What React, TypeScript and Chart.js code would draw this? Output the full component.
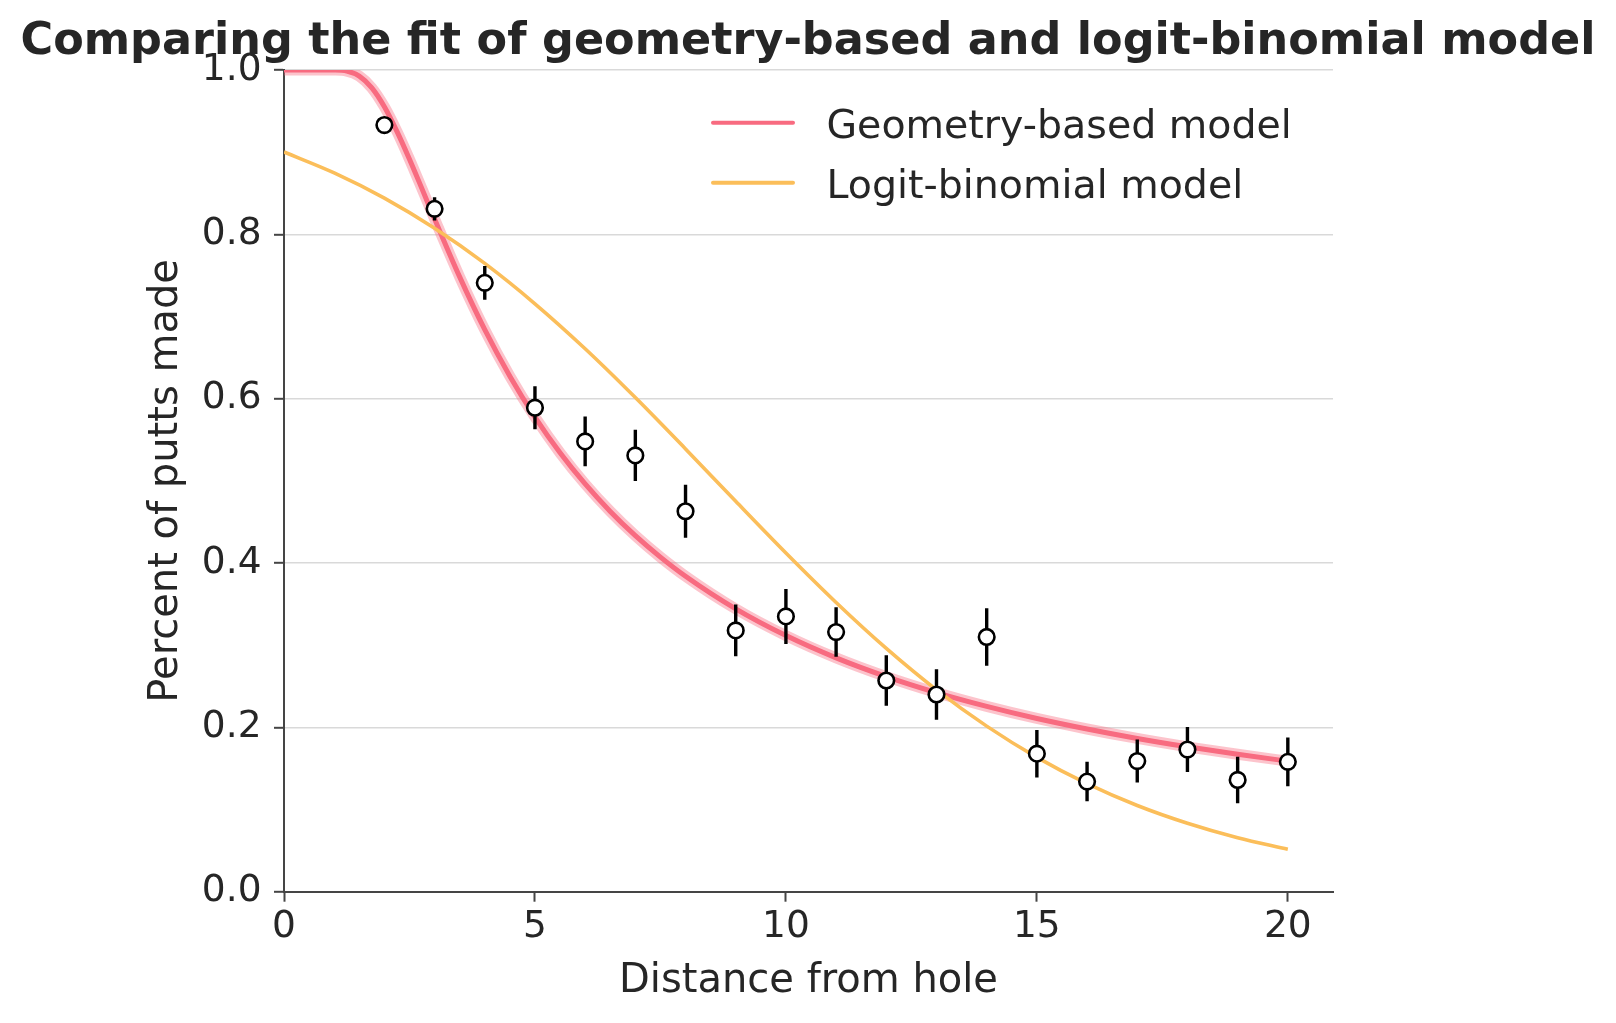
import React, { useEffect, useRef } from "react";
import { Chart, registerables } from "chart.js";

Chart.register(...registerables);

// ---------- text ----------
const titleText = "Comparing the fit of geometry-based and logit-binomial model";
const xLabel = "Distance from hole";
const yLabel = "Percent of putts made";
const seriesNames = ["Geometry-based model", "Logit-binomial model"];

// ---------- observed data ----------
const distances = [2, 3, 4, 5, 6, 7, 8, 9, 10, 11, 12, 13, 14, 15, 16, 17, 18, 19, 20];
const successRate = [0.933, 0.831, 0.741, 0.589, 0.548, 0.531, 0.463, 0.318, 0.335, 0.316, 0.257, 0.24, 0.31, 0.168, 0.134, 0.159, 0.173, 0.136, 0.158];
const stdErr = [0.0066, 0.0142, 0.0205, 0.0262, 0.0302, 0.0312, 0.0322, 0.0316, 0.0334, 0.0302, 0.0307, 0.0308, 0.0351, 0.0289, 0.024, 0.0262, 0.0274, 0.0283, 0.0296];

// ---------- geometry-based model curve ----------
const geomX = [0, 0.5, 1.0, 1.25, 1.5, 1.75, 2.0, 2.25, 2.5, 2.75, 3.0, 3.5, 4.0, 4.5, 5.0, 5.5, 6.0, 6.5, 7.0, 7.5, 8, 9, 10, 11, 12, 13, 14, 15, 16, 17, 18, 19, 20];
const geomY = [1.0, 1.0, 0.9999, 0.9987, 0.9925, 0.9782, 0.9552, 0.9253, 0.8914, 0.8553, 0.8188, 0.7482, 0.6839, 0.6273, 0.5776, 0.5341, 0.4962, 0.4628, 0.4333, 0.4072, 0.3839, 0.3442, 0.3117, 0.2846, 0.2618, 0.2423, 0.2255, 0.2108, 0.198, 0.1865, 0.1763, 0.1672, 0.1589];

// ---------- logit-binomial model curve ----------
const logitX = [0, 1, 2, 3, 4, 5, 6, 7, 8, 9, 10, 11, 12, 13, 14, 15, 16, 17, 18, 19, 20];
const logitY = [0.9002, 0.8748, 0.8441, 0.8074, 0.7646, 0.7155, 0.6608, 0.6014, 0.5389, 0.4751, 0.4122, 0.352, 0.2961, 0.2457, 0.2015, 0.1635, 0.1315, 0.1049, 0.0833, 0.0657, 0.0517];

// ---------- ticks ----------
const xTicks = [0, 5, 10, 15, 20];
const yTicks = [0, 0.2, 0.4, 0.6, 0.8, 1.0];

const FONT = "'DejaVu Sans', 'Liberation Sans', sans-serif";
const TEXT = "#262626";
const SPINE = "#454545";
const GRID = "#d9d9d9";
const GEOM = "#f86b80";
const GEOM_HALO = "rgba(248,107,128,0.4)";
const LOGIT = "#fbbe5a";

const legendPlugin = {
  id: "customLegend",
  afterDraw(chart: any) {
    const { ctx, chartArea } = chart;
    const entries = [
      { label: seriesNames[0], color: GEOM },
      { label: seriesNames[1], color: LOGIT },
    ];
    ctx.save();
    ctx.font = `39.5px ${FONT}`;
    ctx.fillStyle = TEXT;
    ctx.textAlign = "left";
    ctx.textBaseline = "alphabetic";
    entries.forEach((e, i) => {
      const lineY = chartArea.top + 52.7 + i * 60;
      const baseY = chartArea.top + 68.3 + i * 60;
      ctx.beginPath();
      ctx.strokeStyle = e.color;
      ctx.lineWidth = 4;
      ctx.lineCap = "round";
      ctx.moveTo(chartArea.right - 620, lineY);
      ctx.lineTo(chartArea.right - 540, lineY);
      ctx.stroke();
      ctx.fillText(e.label, chartArea.right - 506.5, baseY);
    });
    ctx.restore();
  },
};

export default function App() {
  const canvasRef = useRef<HTMLCanvasElement | null>(null);

  useEffect(() => {
    if (!canvasRef.current) return;

    const pointData = distances.map((x, i) => ({ x, y: successRate[i] }));
    const errData: any[] = [];
    distances.forEach((x, i) => {
      errData.push({ x, y: successRate[i] - stdErr[i] });
      errData.push({ x, y: successRate[i] + stdErr[i] });
      errData.push({ x, y: null });
    });
    const geomData = geomX.map((x, i) => ({ x, y: geomY[i] }));
    const logitData = logitX.map((x, i) => ({ x, y: logitY[i] }));

    const chart = new Chart(canvasRef.current, {
      type: "line",
      data: {
        datasets: [
          {
            label: "observed",
            data: pointData,
            showLine: false,
            pointRadius: 7.8,
            pointBorderWidth: 2.6,
            pointBackgroundColor: "#ffffff",
            pointBorderColor: "#000000",
            order: 0,
          } as any,
          {
            label: "error",
            data: errData,
            borderColor: "#000000",
            borderWidth: 3.4,
            pointRadius: 0,
            spanGaps: false,
            order: 1,
          },
          {
            label: seriesNames[1],
            data: logitData,
            borderColor: LOGIT,
            borderWidth: 3.6,
            pointRadius: 0,
            cubicInterpolationMode: "monotone",
            order: 2,
          },
          {
            label: seriesNames[0],
            data: geomData,
            borderColor: GEOM,
            borderWidth: 5,
            pointRadius: 0,
            cubicInterpolationMode: "monotone",
            clip: 0,
            order: 3,
          } as any,
          {
            label: "halo",
            data: geomData,
            borderColor: GEOM_HALO,
            borderWidth: 11,
            pointRadius: 0,
            cubicInterpolationMode: "monotone",
            clip: 0,
            order: 4,
          } as any,
        ],
      },
      options: {
        animation: false,
        responsive: true,
        maintainAspectRatio: false,
        events: [],
        layout: { padding: { left: 0, right: 0, top: 0, bottom: 0 } },
        plugins: {
          legend: { display: false },
          tooltip: { enabled: false },
          title: {
            display: true,
            text: titleText,
            color: TEXT,
            font: { family: FONT, size: 44.5, weight: "bold" },
            padding: { top: 16.2, bottom: 0.4 },
          },
        },
        scales: {
          x: {
            type: "linear",
            position: "bottom",
            min: 0,
            max: 20.9,
            afterBuildTicks: (scale: any) => {
              scale.ticks = xTicks.map((v) => ({ value: v }));
            },
            afterFit: (scale: any) => {
              scale.height = 131.3;
            },
            ticks: {
              color: TEXT,
              font: { family: FONT, size: 37.5 },
              padding: 3.5,
              maxRotation: 0,
              callback: (v: any) => String(v),
            },
            grid: {
              display: true,
              drawOnChartArea: false,
              drawTicks: true,
              tickLength: 10,
              tickColor: SPINE,
              tickWidth: 2,
            },
            border: { display: true, color: SPINE, width: 2 },
            title: {
              display: true,
              text: xLabel,
              color: TEXT,
              font: { family: FONT, size: 40 },
              padding: { top: 0, bottom: 17.8 },
            },
          },
          y: {
            type: "linear",
            position: "left",
            min: 0,
            max: 1,
            afterBuildTicks: (scale: any) => {
              scale.ticks = yTicks.map((v) => ({ value: v }));
            },
            afterFit: (scale: any) => {
              scale.width = 284;
            },
            ticks: {
              color: TEXT,
              font: { family: FONT, size: 37.5 },
              padding: 12.5,
              callback: (v: any) => Number(v).toFixed(1),
            },
            grid: {
              display: true,
              drawOnChartArea: true,
              color: (c: any) => (c.tick && c.tick.value === 0 ? "rgba(0,0,0,0)" : GRID),
              lineWidth: 1.6,
              drawTicks: true,
              tickLength: 10,
              tickColor: SPINE,
              tickWidth: 2,
            },
            border: { display: true, color: SPINE, width: 2 },
            title: {
              display: true,
              text: yLabel,
              color: TEXT,
              font: { family: FONT, size: 40 },
              padding: { top: 142.2, bottom: 0 },
            },
          },
          yRightSpace: {
            type: "linear",
            position: "right",
            display: true,
            min: 0,
            max: 1,
            afterFit: (scale: any) => {
              scale.width = 283;
            },
            ticks: { display: false },
            grid: { display: false, drawTicks: false },
            border: { display: false },
            title: { display: false },
          },
        },
      } as any,
      plugins: [legendPlugin],
    });

    return () => chart.destroy();
  }, []);

  return (
    <div style={{ position: "absolute", left: 0, top: 0, width: 1616, height: 1023, background: "#ffffff" }}>
      <canvas ref={canvasRef} />
    </div>
  );
}
